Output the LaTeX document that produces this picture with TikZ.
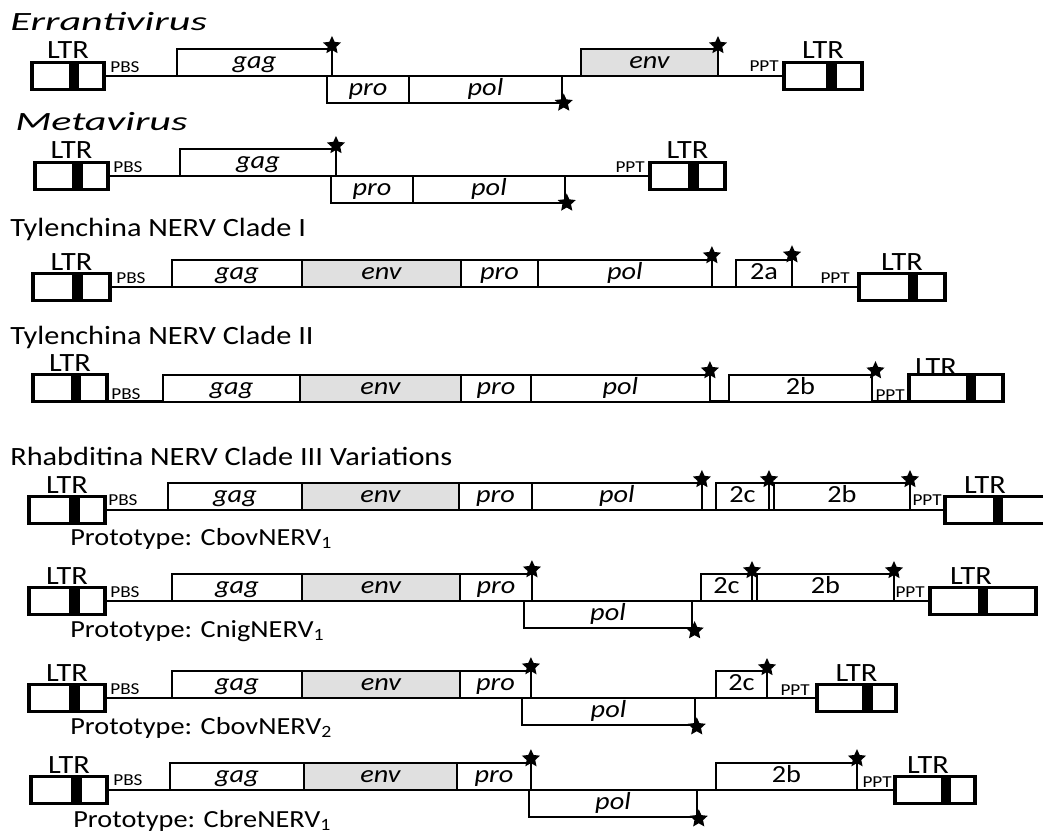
\documentclass[tikz,border=0pt]{standalone}
\usepackage{fontspec}
\setmainfont{Carlito}[FakeStretch=1.15]
\newfontfamily\widefont{Carlito}[FakeStretch=1.6]
\usepackage{tikz}
\usetikzlibrary{shapes,positioning,calc}
\definecolor{envgray}{RGB}{224,224,224}

\begin{document}
\begin{tikzpicture}[
    x=0.02cm, y=-0.02cm,
    title/.style={anchor=base west, inner sep=0, font=\fontsize{15}{17}\selectfont},
    wtitle/.style={title, font=\fontsize{15}{17}\selectfont\widefont\itshape},
    ltr/.style={rectangle, draw, line width=2.1pt, fill=white, minimum width=1.5cm, minimum height=0.54cm, inner sep=0, outer sep=0},
    ltrbar/.style={rectangle, fill=black, minimum width=0.21cm, minimum height=0.54cm, inner sep=0},
    ltrname/.style={inner sep=0, font=\fontsize{15}{17}\selectfont},
    site/.style={inner sep=0, font=\fontsize{9.5}{11}\selectfont},
    gene/.style={rectangle, draw, line width=1.3pt, fill=white, minimum height=0.54cm, inner sep=0, outer sep=0, text height=8pt, text depth=1.2pt, font=\fontsize{14}{16}\selectfont\itshape},
    envgene/.style={gene, fill=envgray},
    orf/.style={gene, font=\fontsize{14}{16}\selectfont},
    stop/.style={star, star points=5, star point ratio=2.1, fill=black, minimum size=0.38cm, inner sep=0},
    genome/.style={line width=1.3pt},
    proto/.style={anchor=base west, inner sep=0, font=\fontsize{14}{16}\selectfont}
]
\useasboundingbox (0,0) rectangle (1043,834);

% Errantivirus
\node[wtitle] (tErr) at (10,31) {Errantivirus};
\node[ltr, minimum width=1.45cm] (ltrL1) at (68,76) {};
\node[ltrbar] (barL1) at ([xshift=0.12cm]ltrL1.center) {};
\node[ltrname, above=0.08cm of ltrL1] (nL1) {LTR};
\node[ltr, minimum width=1.57cm] (ltrR1) at (823,76) {};
\node[ltrbar] (barR1) at ([xshift=0.17cm]ltrR1.center) {};
\node[ltrname, above=0.08cm of ltrR1] (nR1) {LTR};
\draw[genome] (ltrL1.east) -- (ltrR1.west);
\node[gene, anchor=south west, minimum width=3.1cm] (gag1) at (177,76) {gag};
\node[gene, anchor=north west, minimum width=1.64cm] (pro1) at (327,76) {pro};
\node[gene, right=0pt of pro1, minimum width=3.06cm] (pol1) {pol};
\node[envgene, anchor=south west, minimum width=2.74cm] (env1) at (581,76) {env};
\node[site, anchor=base west] (pbs1) at (110,73) {PBS};
\node[site, anchor=base east] (ppt1) at (779,72) {PPT};
\node[stop] (s1a) at ([yshift=2pt]gag1.north east) {};
\node[stop] (s1b) at ([xshift=1pt]pol1.south east) {};
\node[stop] (s1c) at ([yshift=2pt]env1.north east) {};

% Metavirus
\node[wtitle] (tMeta) at (15,131) {Metavirus};
\node[ltr, minimum width=1.47cm] (ltrL2) at (71.5,176) {};
\node[ltrbar] (barL2) at ([xshift=0.12cm]ltrL2.center) {};
\node[ltrname, above=0.08cm of ltrL2] (nL2) {LTR};
\node[ltr, minimum width=1.51cm] (ltrR2) at (687.5,176) {};
\node[ltrbar] (barR2) at ([xshift=0.12cm]ltrR2.center) {};
\node[ltrname, above=0.08cm of ltrR2] (nR2) {LTR};
\draw[genome] (ltrL2.east) -- (ltrR2.west);
\node[gene, anchor=south west, minimum width=3.12cm] (gag2) at (180,176) {gag};
\node[gene, anchor=north west, minimum width=1.64cm] (pro2) at (331,176) {pro};
\node[gene, right=0pt of pro2, minimum width=3.04cm] (pol2) {pol};
\node[site, anchor=base west] (pbs2) at (113,173) {PBS};
\node[site, anchor=base east] (ppt2) at (645,173) {PPT};
\node[stop] (s2a) at ([yshift=2pt]gag2.north east) {};
\node[stop] (s2b) at ([xshift=1pt]pol2.south east) {};

% Tylenchina clade I
\node[title] (tTyl1) at (10,236) {Tylenchina NERV Clade I};
\node[ltr, minimum width=1.55cm] (ltrL3) at (71.5,287) {};
\node[ltrbar] (barL3) at ([xshift=0.12cm]ltrL3.center) {};
\node[ltrname, above=0.06cm of ltrL3] (nL3) {LTR};
\node[ltr, minimum width=1.73cm] (ltrR3) at (902,287) {};
\node[ltrbar] (barR3) at ([xshift=0.22cm]ltrR3.center) {};
\node[ltrname, above=0.06cm of ltrR3] (nR3) {LTR};
\draw[genome] (ltrL3.east) -- (ltrR3.west);
\node[gene, anchor=south west, minimum width=2.6cm] (gag3) at (172,287) {gag};
\node[envgene, right=0pt of gag3, minimum width=3.18cm] (env3) {env};
\node[gene, right=0pt of env3, minimum width=1.54cm] (pro3) {pro};
\node[gene, right=0pt of pro3, minimum width=3.48cm] (pol3) {pol};
\node[orf, anchor=south west, minimum width=1.12cm] (orf2a3) at (736,287) {2a};
\node[site, anchor=base west] (pbs3) at (116,283) {PBS};
\node[site, anchor=base east] (ppt3) at (850,283) {PPT};
\node[stop] (s3a) at ([yshift=2.5pt]pol3.north east) {};
\node[stop] (s3b) at ([yshift=3pt]orf2a3.north east) {};

% Tylenchina clade II
\node[title] (tTyl2) at (10,344) {Tylenchina NERV Clade II};
\node[ltr, minimum width=1.49cm] (ltrL4) at (70,388) {};
\node[ltrbar] (barL4) at ([xshift=0.12cm]ltrL4.center) {};
\node[ltrname, above=0.06cm of ltrL4] (nL4) {LTR};
\node[ltr, minimum width=1.87cm] (ltrR4) at (956,388) {};
\node[ltrbar] (barR4) at ([xshift=0.3cm]ltrR4.center) {};
\node[ltrname, above=-0.03cm of ltrR4, xshift=-0.4cm] (nR4) {LTR};
\draw[genome] (ltrL4.south east) -- (ltrR4.south west);
\node[gene, anchor=south west, minimum width=2.74cm] (gag4) at (163,402) {gag};
\node[envgene, right=0pt of gag4, minimum width=3.22cm] (env4) {env};
\node[gene, right=0pt of env4, minimum width=1.4cm] (pro4) {pro};
\node[gene, right=0pt of pro4, minimum width=3.58cm] (pol4) {pol};
\node[orf, anchor=south west, minimum width=2.86cm] (orf2b4) at (729,402) {2b};
\node[site, anchor=base west] (pbs4) at (111,399) {PBS};
\node[site, anchor=base east] (ppt4) at (905,400) {PPT};
\node[stop] (s4a) at ([yshift=2.5pt]pol4.north east) {};
\node[stop] (s4b) at ([yshift=2.5pt, xshift=2pt]orf2b4.north east) {};

% Rhabditina clade III
\node[title] (tRha) at (10,465) {Rhabditina NERV Clade III Variations};
\node[ltr, minimum width=1.53cm] (ltrL5) at (67,510) {};
\node[ltrbar] (barL5) at ([xshift=0.15cm]ltrL5.center) {};
\node[ltrname, above=0.06cm of ltrL5] (nL5) {LTR};
\node[ltr, minimum width=2.13cm] (ltrR5) at (998,510) {};
\node[ltrbar] (barR5) at (ltrR5.center) {};
\node[ltrname, above=0.06cm of ltrR5, xshift=-0.26cm] (nR5) {LTR};
\draw[genome] (ltrL5.east) -- (ltrR5.west);
\node[gene, anchor=south west, minimum width=2.68cm] (gag5) at (168,510) {gag};
\node[envgene, right=0pt of gag5, minimum width=3.14cm] (env5) {env};
\node[gene, right=0pt of env5, minimum width=1.46cm] (pro5) {pro};
\node[gene, right=0pt of pro5, minimum width=3.4cm] (pol5) {pol};
\node[orf, anchor=south west, minimum width=1.06cm] (orf2c5) at (716,510) {2c};
\node[orf, anchor=south west, minimum width=2.72cm] (orf2b5) at (774,510) {2b};
\node[site, anchor=base west] (pbs5) at (108,505) {PBS};
\node[site, anchor=base east] (ppt5) at (942,505) {PPT};
\node[stop] (s5a) at ([yshift=2pt]pol5.north east) {};
\node[stop] (s5b) at ([yshift=2pt]orf2c5.north east) {};
\node[stop] (s5c) at ([yshift=2pt]orf2b5.north east) {};
\node[proto] (p5) at (70,545) {Prototype: CbovNERV\textsubscript{1}};

% CnigNERV variant
\node[ltr, minimum width=1.53cm] (ltrL6) at (67,601) {};
\node[ltrbar] (barL6) at ([xshift=0.15cm]ltrL6.center) {};
\node[ltrname, above=0.06cm of ltrL6] (nL6) {LTR};
\node[ltr, minimum width=2.13cm] (ltrR6) at (983,601) {};
\node[ltrbar] (barR6) at (ltrR6.center) {};
\node[ltrname, above=0.06cm of ltrR6, xshift=-0.24cm] (nR6) {LTR};
\draw[genome] (ltrL6.east) -- (ltrR6.west);
\node[gene, anchor=south west, minimum width=2.6cm] (gag6) at (172,601) {gag};
\node[envgene, right=0pt of gag6, minimum width=3.16cm] (env6) {env};
\node[gene, right=0pt of env6, minimum width=1.44cm] (pro6) {pro};
\node[gene, anchor=north west, minimum width=3.36cm] (pol6) at (524,601) {pol};
\node[orf, anchor=south west, minimum width=1.02cm] (orf2c6) at (701,601) {2c};
\node[orf, anchor=south west, minimum width=2.74cm] (orf2b6) at (757,601) {2b};
\node[site, anchor=base west] (pbs6) at (110,597) {PBS};
\node[site, anchor=base east] (ppt6) at (925,597) {PPT};
\node[stop] (s6a) at ([yshift=2.5pt]pro6.north east) {};
\node[stop] (s6b) at ([xshift=1.5pt, yshift=-1.5pt]pol6.south east) {};
\node[stop] (s6c) at ([yshift=2pt]orf2c6.north east) {};
\node[stop] (s6d) at ([yshift=2pt]orf2b6.north east) {};
\node[proto] (p6) at (70,637) {Prototype: CnigNERV\textsubscript{1}};

% CbovNERV2 variant
\node[ltr, minimum width=1.53cm] (ltrL7) at (67,698) {};
\node[ltrbar] (barL7) at ([xshift=0.15cm]ltrL7.center) {};
\node[ltrname, above=0.06cm of ltrL7] (nL7) {LTR};
\node[ltr, minimum width=1.59cm] (ltrR7) at (856.5,698) {};
\node[ltrbar] (barR7) at ([xshift=0.22cm]ltrR7.center) {};
\node[ltrname, above=0.06cm of ltrR7] (nR7) {LTR};
\draw[genome] (ltrL7.east) -- (ltrR7.west);
\node[gene, anchor=south west, minimum width=2.6cm] (gag7) at (172,698) {gag};
\node[envgene, right=0pt of gag7, minimum width=3.16cm] (env7) {env};
\node[gene, right=0pt of env7, minimum width=1.42cm] (pro7) {pro};
\node[gene, anchor=north west, minimum width=3.46cm] (pol7) at (522,698) {pol};
\node[orf, anchor=south west, minimum width=1.02cm] (orf2c7) at (716,698) {2c};
\node[site, anchor=base west] (pbs7) at (110,694) {PBS};
\node[site, anchor=base east] (ppt7) at (810,695) {PPT};
\node[stop] (s7a) at ([yshift=2.5pt]pro7.north east) {};
\node[stop] (s7b) at ([xshift=1pt, yshift=-1pt]pol7.south east) {};
\node[stop] (s7c) at ([yshift=2pt]orf2c7.north east) {};
\node[proto] (p7) at (70,734) {Prototype: CbovNERV\textsubscript{2}};

% CbreNERV variant
\node[ltr, minimum width=1.53cm] (ltrL8) at (69,790) {};
\node[ltrbar] (barL8) at ([xshift=0.15cm]ltrL8.center) {};
\node[ltrname, above=0.06cm of ltrL8] (nL8) {LTR};
\node[ltr, minimum width=1.61cm] (ltrR8) at (935,790) {};
\node[ltrbar] (barR8) at ([xshift=0.22cm]ltrR8.center) {};
\node[ltrname, above=0.06cm of ltrR8, xshift=-0.14cm] (nR8) {LTR};
\draw[genome] (ltrL8.east) -- (ltrR8.west);
\node[gene, anchor=south west, minimum width=2.68cm] (gag8) at (170,790) {gag};
\node[envgene, right=0pt of gag8, minimum width=3.06cm] (env8) {env};
\node[gene, right=0pt of env8, minimum width=1.48cm] (pro8) {pro};
\node[gene, anchor=north west, minimum width=3.36cm] (pol8) at (529,790) {pol};
\node[orf, anchor=south west, minimum width=2.82cm] (orf2b8) at (716,790) {2b};
\node[site, anchor=base west] (pbs8) at (113,785) {PBS};
\node[site, anchor=base east] (ppt8) at (892,787) {PPT};
\node[stop] (s8a) at ([yshift=2.5pt]pro8.north east) {};
\node[stop] (s8b) at ([xshift=1pt, yshift=-1pt]pol8.south east) {};
\node[stop] (s8c) at ([yshift=2.5pt]orf2b8.north east) {};
\node[proto] (p8) at (73,827) {Prototype: CbreNERV\textsubscript{1}};

\end{tikzpicture}
\end{document}
